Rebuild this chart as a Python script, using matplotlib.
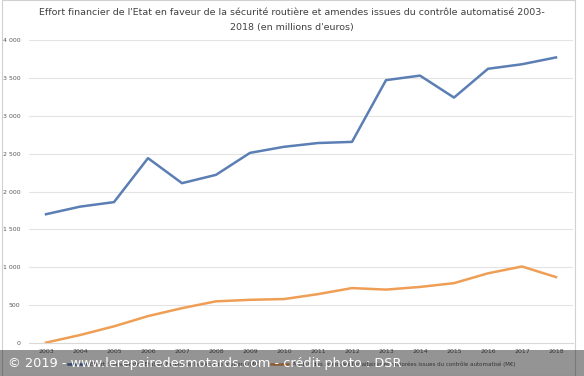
import matplotlib
matplotlib.use("Agg")
import matplotlib.pyplot as plt
from matplotlib.patches import Rectangle

years = [str(y) for y in range(2003, 2019)]
effort_etat = [1700, 1800, 1860, 2440, 2110, 2220, 2510, 2590, 2640, 2655, 3470, 3530, 3240, 3620, 3680, 3770]
amendes = [5, 105, 220, 355, 460, 550, 570, 580, 645, 725, 705, 740, 790, 920, 1010, 870]
yticks = [0, 500, 1000, 1500, 2000, 2500, 3000, 3500, 4000]
ytick_labels = ["0", "500", "1 000", "1 500", "2 000", "2 500", "3 000", "3 500", "4 000"]

title = ("Effort financier de l'Etat en faveur de la sécurité routière et amendes issues du contrôle automatisé 2003-\n"
         "2018 (en millions d'euros)")
label_blue = "Effort financier de l'Etat en faveur de la sécurité routière (M€)"
label_orange = "Produit des amendes forfaitaires et majorées issues du contrôle automatisé (M€)"
watermark = "© 2019 - www.lerepairedesmotards.com - crédit photo : DSR"

fig = plt.figure(figsize=(5.84, 3.76), dpi=100)
fig.patch.set_facecolor("white")
ax = fig.add_axes([29/584, 1-343/376, (573-29)/584, (343-40)/376])

x = list(range(len(years)))
ax.plot(x, effort_etat, color="#5b7fb4", lw=1.8, label=label_blue)
ax.plot(x, amendes, color="#ef9e55", lw=1.8, label=label_orange)

ax.set_xlim(-0.5, len(years) - 0.5)
ax.set_ylim(0, 4000)
ax.set_yticks(yticks)
ax.set_yticklabels(ytick_labels)
ax.set_xticks(x)
ax.set_xticklabels(years)
ax.tick_params(axis="both", length=0, labelsize=4.5, colors="#595959")
ax.tick_params(axis="y", pad=6)
ax.tick_params(axis="x", pad=4)
ax.grid(axis="y", color="#e3e3e3", lw=0.8)
ax.set_axisbelow(True)
for s in ["top", "right", "left"]:
    ax.spines[s].set_visible(False)
ax.spines["bottom"].set_color("#d9d9d9")
ax.spines["bottom"].set_linewidth(0.8)

fig.text(0.5, 1-20/376, title, ha="center", va="center", fontsize=6.8, color="#404040",
         linespacing=1.75)

fig.legend(loc="center", bbox_to_anchor=(0.5, 1-364/376), ncol=2, frameon=False,
           fontsize=4, labelcolor="#595959", handlelength=3, columnspacing=2)

# chart border
fig.add_artist(Rectangle((2/584, 0.0), 573/584, 1.0, transform=fig.transFigure,
                         fill=False, edgecolor="#d0d0d0", lw=0.8))
# watermark band
fig.add_artist(Rectangle((0, 0), 1, 26/376, transform=fig.transFigure,
                         facecolor="#000000", alpha=0.42, edgecolor="none", zorder=10))
fig.text(8/584, 13/376, watermark, ha="left", va="center", fontsize=9.3, color="white",
         zorder=11)

fig.savefig("out.png", dpi=100)
